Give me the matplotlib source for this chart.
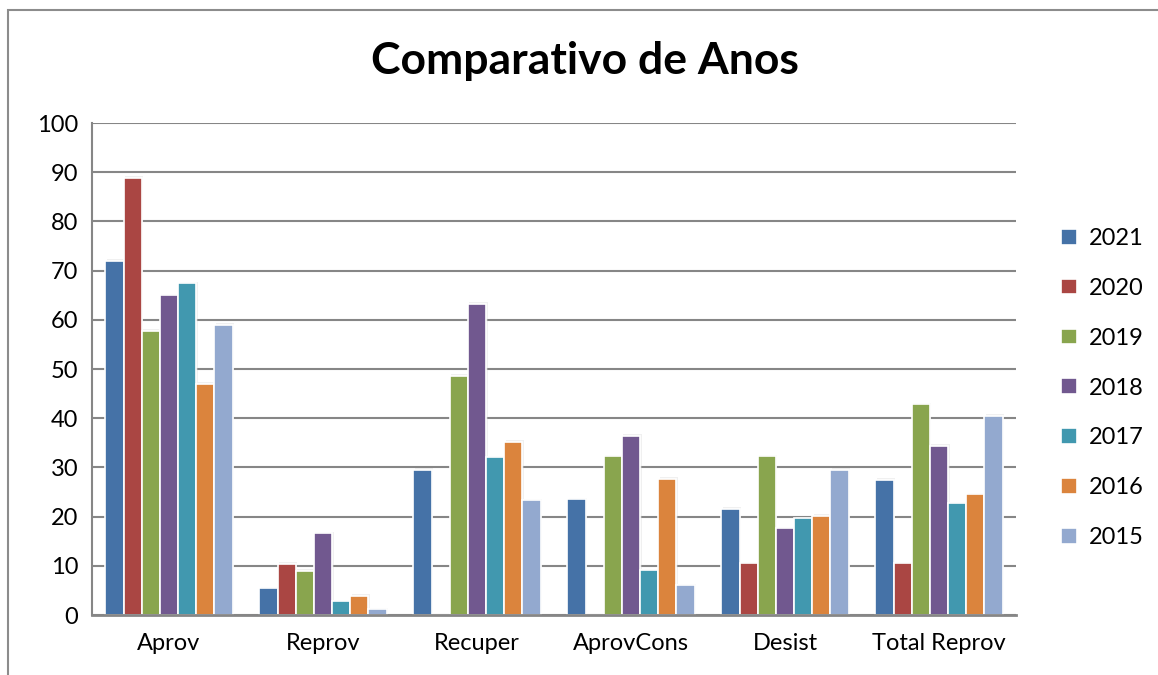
import numpy as np
import matplotlib
matplotlib.use("Agg")
import matplotlib.pyplot as plt
from matplotlib.patches import Rectangle

categories = ["Aprov", "Reprov", "Recuper", "AprovCons", "Desist", "Total Reprov"]
years = ["2021", "2020", "2019", "2018", "2017", "2016", "2015"]

v2021 = [72.0, 5.4, 29.5, 23.5, 21.6, 27.5]
v2020 = [88.9, 10.4, 0.0, 0.0, 10.5, 10.5]
v2019 = [57.8, 9.0, 48.6, 32.3, 32.3, 42.8]
v2018 = [65.0, 16.6, 63.3, 36.4, 17.6, 34.4]
v2017 = [67.4, 2.8, 32.1, 9.1, 19.7, 22.7]
v2016 = [47.0, 3.9, 35.2, 27.7, 20.2, 24.5]
v2015 = [59.0, 1.2, 23.3, 6.0, 29.5, 40.5]
series = [v2021, v2020, v2019, v2018, v2017, v2016, v2015]

colors = ["#4572A7", "#AA4643", "#89A54E", "#71588F", "#4198AF", "#DB843D", "#93A9CF"]

plt.rcParams['font.family'] = ['Lato', 'DejaVu Sans']

W, H = 1158, 675
fig = plt.figure(figsize=(W / 100, H / 100), dpi=100)
fig.patches.append(Rectangle((8 / W, -0.02), 1.1, 1 - 10 / H + 0.02, transform=fig.transFigure,
                             fill=False, edgecolor="#8c8c8c", linewidth=1.5))

ax = fig.add_axes([92 / W, (H - 615) / H, (1016 - 92) / W, (615 - 123) / H])

x = np.arange(len(categories))
group = 0.825
bw = group / len(series)
for i, (vals, c, yr) in enumerate(zip(series, colors, years)):
    pos = x - group / 2 + bw * (i + 0.5)
    # soft shadow
    ax.bar(pos + 0.01, np.array(vals) + 0.3, width=bw, color="#d6d6d6", alpha=0.35,
           edgecolor="none", zorder=2)
    ax.bar(pos, vals, width=bw, color=c, edgecolor="white", linewidth=1.2,
           label=yr, zorder=3)

ax.set_xlim(-0.5, len(categories) - 0.5)
ax.set_ylim(0, 100)
ax.set_yticks(np.arange(0, 101, 10))
ax.set_xticks(x)
ax.set_xticklabels(categories)
ax.tick_params(axis="both", length=0, labelsize=17, colors="black")
ax.tick_params(axis="y", pad=10)
ax.tick_params(axis="x", pad=13)
ax.grid(axis="y", color="#868686", linewidth=1.5, zorder=1)
ax.set_axisbelow(True)
for s in ["top", "right"]:
    ax.spines[s].set_visible(False)
ax.spines["left"].set_color("#868686")
ax.spines["left"].set_linewidth(1.5)
ax.spines["bottom"].set_color("#868686")
ax.spines["bottom"].set_linewidth(2)
ax.spines["bottom"].set_zorder(4)

fig.text(585 / W, 1 - 61 / H, "Comparativo de Anos", ha="center", va="center",
         fontsize=32, fontweight="bold")

handles, labels = ax.get_legend_handles_labels()
fig.legend(handles, labels, loc="center left", bbox_to_anchor=(1040 / W, 1 - 388 / H),
           frameon=False, fontsize=17, handlelength=0.65, handleheight=0.65,
           labelspacing=1.22, handletextpad=0.5)

fig.savefig("out.png", dpi=100)
